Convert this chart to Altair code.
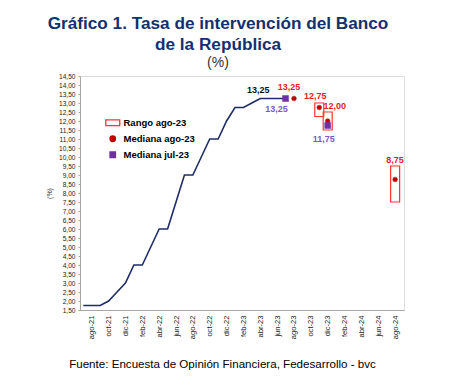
import json
import altair as alt
import pandas as pd

# ---------------- data ----------------
meses = ["jul-21", "ago-21", "sep-21", "oct-21", "nov-21", "dic-21",
         "ene-22", "feb-22", "mar-22", "abr-22", "may-22", "jun-22",
         "jul-22", "ago-22", "sep-22", "oct-22", "nov-22", "dic-22",
         "ene-23", "feb-23", "mar-23", "abr-23", "may-23", "jun-23",
         "jul-23", "ago-23", "sep-23", "oct-23", "nov-23", "dic-23",
         "ene-24", "feb-24", "mar-24", "abr-24", "may-24", "jun-24",
         "jul-24", "ago-24"]

tasa_meses = meses[:25]
tasa = [1.75, 1.75, 1.75, 2.00, 2.50, 3.00, 4.00, 4.00, 5.00, 6.00, 6.00,
        7.50, 9.00, 9.00, 10.00, 11.00, 11.00, 12.00, 12.75, 12.75, 13.00,
        13.25, 13.25, 13.25, 13.25]

med_ago_meses = ["ago-23", "nov-23", "dic-23", "ago-24"]
med_ago = [13.25, 12.75, 12.00, 8.75]

rango_meses = ["nov-23", "dic-23", "ago-24"]
rango_min = [12.25, 11.50, 7.50]
rango_max = [13.00, 12.50, 9.50]

med_jul_meses = ["jul-23", "dic-23"]
med_jul = [13.25, 11.75]

series = ["Rango ago-23", "Mediana ago-23", "Mediana jul-23"]

# ---------------- tables ----------------
df_tasa = pd.DataFrame({"mes": tasa_meses, "i": [meses.index(m) for m in tasa_meses], "v": tasa})
df_ago = pd.DataFrame({"mes": med_ago_meses, "i": [meses.index(m) for m in med_ago_meses],
                       "v": med_ago, "serie": series[1]})
df_jul = pd.DataFrame({"mes": med_jul_meses, "i": [meses.index(m) for m in med_jul_meses],
                       "v": med_jul, "serie": series[2]})
df_rango = pd.DataFrame({"mes": rango_meses, "i": [meses.index(m) for m in rango_meses],
                         "lo": rango_min, "hi": rango_max})

FONT = "Liberation Sans"
NAVY = "#1F2D66"
RED_DOT = "#C00000"
RED_TXT = "#E3221F"
RED_BOX = "#FF3333"
PURPLE = "#7030A0"
PURPLE_TXT = "#7E57C2"

fmt = "replace(format(datum.value, '.2f'), '.', ',')"

x_axis = alt.Axis(values=list(range(1, 38, 2)),
                  labelExpr=json.dumps(meses) + "[datum.value]",
                  labelAngle=270, labelFontSize=7.6, labelFont=FONT,
                  labelColor="#222222", labelPadding=5, ticks=False,
                  labelOverlap=False,
                  domainColor="#A6A6A6", grid=False,
                  title="Fuente: Encuesta de Opinión Financiera, Fedesarrollo - bvc",
                  titleFont=FONT, titleFontSize=11.6, titleFontWeight="normal",
                  titleColor="#000000", titlePadding=20, titleX=142)
y_axis = alt.Axis(values=[1.5 + 0.5 * k for k in range(27)],
                  labelExpr=fmt, labelFontSize=6.6, labelFont=FONT,
                  labelColor="#222222", labelPadding=3, tickSize=2,
                  labelOverlap=False, labelBound=False, labelFlush=False,
                  tickColor="#A6A6A6", domainColor="#A6A6A6", grid=False,
                  title="(%)", titleFont=FONT, titleFontSize=7,
                  titleFontWeight="normal", titleColor="#404040",
                  titlePadding=6)
x_scale = alt.Scale(domain=[0.2, 37.46], nice=False, zero=False)
y_scale = alt.Scale(domain=[1.5, 14.5], nice=False, zero=False)

X = alt.X("i:Q", scale=x_scale, axis=x_axis)
Y = alt.Y("v:Q", scale=y_scale, axis=y_axis)

legend = alt.Legend(orient="none", legendX=28, legendY=42, padding=0,
                    symbolSize=30, symbolStrokeWidth=1.3, labelFont=FONT,
                    labelFontSize=9.5, labelFontWeight="bold", labelColor="#000000",
                    labelOffset=6, rowPadding=4)
rect_path = "M-2.55,-1.05H2.55V1.05H-2.55Z"
stroke_enc = alt.Stroke("serie:N", title=None, legend=legend,
                        scale=alt.Scale(domain=series, range=[RED_BOX, RED_DOT, PURPLE]))
fill_enc = alt.Fill("serie:N", title=None, legend=legend,
                    scale=alt.Scale(domain=series, range=["#FFFFFF", RED_DOT, PURPLE]))
shape_enc = alt.Shape("serie:N", title=None, legend=legend,
                      scale=alt.Scale(domain=series, range=[rect_path, "circle", "square"]))

linea = alt.Chart(df_tasa).mark_line(color=NAVY, strokeWidth=1.6, clip=True).encode(x=X, y=Y)

cajas = alt.Chart(df_rango).mark_bar(width=9, fill="#FFFFFF", fillOpacity=0,
                                     stroke=RED_BOX, strokeWidth=1.2).encode(
    x=X, y=alt.Y("lo:Q", scale=y_scale, axis=y_axis), y2="hi:Q")

puntos_ago = alt.Chart(df_ago).mark_point(size=22, opacity=1, fillOpacity=1, strokeWidth=0.5).encode(
    x=X, y=Y, stroke=stroke_enc, fill=fill_enc, shape=shape_enc)
puntos_jul = alt.Chart(df_jul).mark_point(size=36, opacity=1, fillOpacity=1, strokeWidth=0.5).encode(
    x=X, y=Y, stroke=stroke_enc, fill=fill_enc, shape=shape_enc)


def etiqueta(df, mes, color, dx, dy):
    return alt.Chart(df).transform_filter(
        alt.datum.mes == mes
    ).transform_calculate(
        txt="replace(format(datum.v, '.2f'), '.', ',')"
    ).mark_text(font=FONT, fontSize=9, fontWeight="bold", color=color,
                dx=dx, dy=dy, align="center", baseline="middle").encode(
        x=X, y=Y, text="txt:N")


textos = [
    etiqueta(df_tasa, "abr-23", "#111111", -2, -8.5),
    etiqueta(df_ago, "ago-23", RED_TXT, -5, -12),
    etiqueta(df_ago, "nov-23", RED_TXT, -4, -12),
    etiqueta(df_ago, "dic-23", RED_TXT, 7, -15),
    etiqueta(df_ago, "ago-24", RED_TXT, 0, -20),
    etiqueta(df_jul, "jul-23", PURPLE_TXT, -9, 10),
    etiqueta(df_jul, "dic-23", PURPLE_TXT, -4, 13),
]

chart = alt.layer(linea, cajas, puntos_ago, puntos_jul, *textos).properties(
    width=324, height=234,
    autosize=alt.AutoSizeParams(type="none"),
    padding={"left": 72, "top": 68, "right": 50, "bottom": 68},
    title=alt.TitleParams(
        text=["Gráfico 1. Tasa de intervención del Banco", "de la República"],
        subtitle="(%)", anchor="middle", dx=-24, font=FONT, fontSize=17.2,
        fontWeight="bold", color="#14306E", lineHeight=21,
        subtitleFont=FONT, subtitleFontSize=14, subtitleColor="#333333",
        subtitlePadding=3, offset=3),
).configure_view(stroke=None).configure_axis(labelOverlap=False).configure(background="#FFFFFF")

chart.save("out.html", embed_options={"renderer": "svg", "actions": False})
